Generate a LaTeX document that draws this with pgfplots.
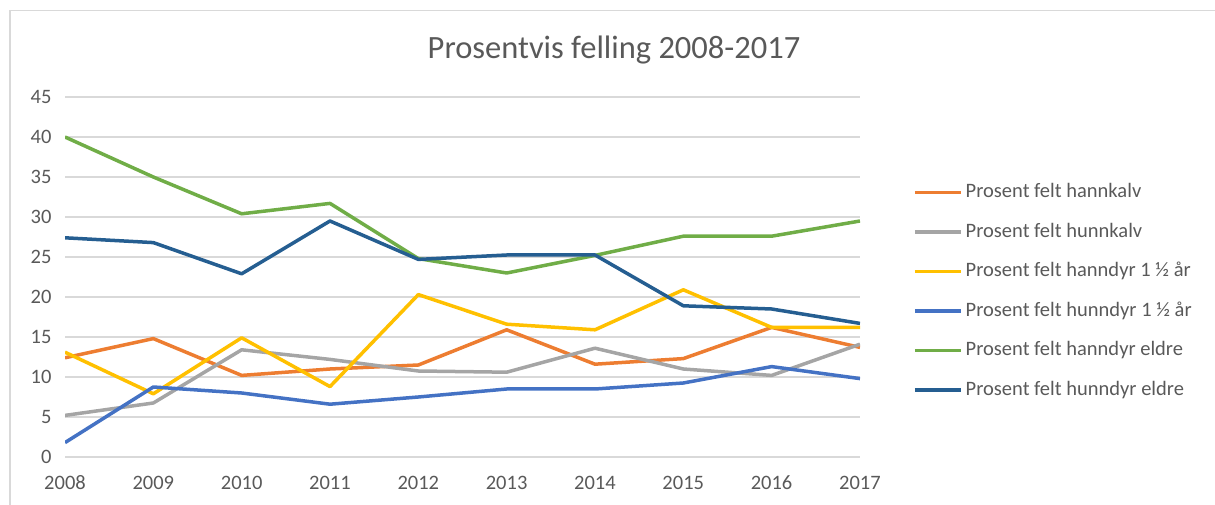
\documentclass[border=0pt]{standalone}
\usepackage{fontspec}
\setmainfont{Carlito}
\usepackage{pgfplots}
\pgfplotsset{compat=1.18}

\definecolor{xorange}{HTML}{ED7D31}
\definecolor{xgray}{HTML}{A5A5A5}
\definecolor{xyellow}{HTML}{FFC000}
\definecolor{xblue}{HTML}{4472C4}
\definecolor{xgreen}{HTML}{70AD47}
\definecolor{xdblue}{HTML}{255E91}
\definecolor{txt}{HTML}{595959}
\definecolor{gridc}{HTML}{D9D9D9}

\begin{document}
\begin{tikzpicture}
\useasboundingbox (0,0) rectangle (1215bp,505bp);
% chart frame (only top and left edges are visible)
\draw[gridc, line width=1.5bp] (10bp,0) -- (10bp,494.5bp) -- (1215bp,494.5bp);

\begin{axis}[
    at={(65bp,48bp)}, anchor=origin,
    scale only axis,
    width=795bp, height=360bp,
    xmin=2008, xmax=2017,
    ymin=0, ymax=45,
    xtick={2008,...,2017},
    ytick={0,5,...,45},
    xticklabel style={/pgf/number format/1000 sep={}, anchor=north,
        text height=14bp, text depth=0bp, yshift=-15bp},
    yticklabel style={xshift=-10bp},
    /pgf/number format/assume math mode=true,
    tick label style={font=\fontsize{20.5bp}{24bp}\selectfont, text=txt},
    axis line style={draw=none},
    major tick length=0pt,
    ymajorgrids,
    grid style={gridc, line width=1.5bp},
    title={Prosentvis felling 2008-2017},
    title style={at={(0.6906,1.114)}, anchor=center,
        font=\fontsize{32.5bp}{38bp}\selectfont, text=txt},
    legend image code/.code={\draw[#1, line width=3.5bp] (0bp,0bp) -- (46bp,0bp);},
    legend cell align=left,
    legend style={at={(1.0667,0.46)}, anchor=west, draw=none, fill=none,
        inner sep=0pt, row sep=21.5bp, column sep=3bp,
        nodes={inner sep=0pt, text height=14bp, text depth=4bp,
            font=\fontsize{20.5bp}{24bp}\selectfont, text=txt}},
    every axis plot/.append style={line width=3.5bp, line join=round},
]
% Prosent felt hannkalv
\addplot[xorange] coordinates {
    (2008,12.4) (2009,14.8) (2010,10.2) (2011,11.0) (2012,11.5)
    (2013,15.9) (2014,11.6) (2015,12.3) (2016,16.2) (2017,13.7)};
% Prosent felt hunnkalv
\addplot[xgray] coordinates {
    (2008,5.2) (2009,6.75) (2010,13.4) (2011,12.2) (2012,10.75)
    (2013,10.6) (2014,13.6) (2015,11.0) (2016,10.2) (2017,14.1)};
% Prosent felt hanndyr 1 1/2 aar
\addplot[xyellow] coordinates {
    (2008,13.1) (2009,7.9) (2010,14.9) (2011,8.8) (2012,20.3)
    (2013,16.6) (2014,15.9) (2015,20.9) (2016,16.2) (2017,16.2)};
% Prosent felt hunndyr 1 1/2 aar
\addplot[xblue] coordinates {
    (2008,1.8) (2009,8.75) (2010,8.0) (2011,6.6) (2012,7.5)
    (2013,8.5) (2014,8.5) (2015,9.25) (2016,11.3) (2017,9.8)};
% Prosent felt hanndyr eldre
\addplot[xgreen] coordinates {
    (2008,40.0) (2009,35.0) (2010,30.4) (2011,31.7) (2012,24.8)
    (2013,23.0) (2014,25.2) (2015,27.6) (2016,27.6) (2017,29.5)};
% Prosent felt hunndyr eldre
\addplot[xdblue] coordinates {
    (2008,27.4) (2009,26.8) (2010,22.9) (2011,29.5) (2012,24.7)
    (2013,25.25) (2014,25.25) (2015,18.9) (2016,18.5) (2017,16.7)};
\legend{Prosent felt hannkalv, Prosent felt hunnkalv,
    Prosent felt hanndyr 1 ½ år, Prosent felt hunndyr 1 ½ år,
    Prosent felt hanndyr eldre, Prosent felt hunndyr eldre}
\end{axis}
\end{tikzpicture}
\end{document}
